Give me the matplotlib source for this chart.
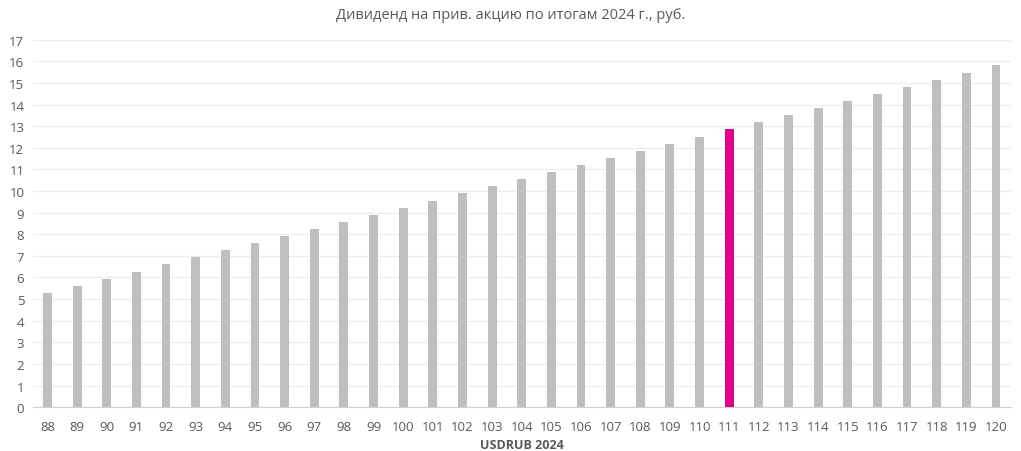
import numpy as np
import matplotlib.pyplot as plt

plt.rcParams['font.family'] = ['Open Sans', 'DejaVu Sans']

# Data
usdrub = list(range(88, 121))
dividend = [5.29, 5.61, 5.94, 6.27, 6.60, 6.93, 7.26, 7.59, 7.92, 8.24,
            8.57, 8.90, 9.23, 9.56, 9.89, 10.22, 10.55, 10.88, 11.21, 11.53,
            11.86, 12.19, 12.52, 12.85, 13.18, 13.51, 13.84, 14.17, 14.50, 14.82,
            15.15, 15.48, 15.81]
highlight = 111

colors = ['#e0008c' if u == highlight else '#bfbfbf' for u in usdrub]

fig = plt.figure(figsize=(10.21, 4.52), dpi=100)
ax = fig.add_axes([0.032, 0.097, 0.958, 0.813])

x = np.arange(len(usdrub))
ax.bar(x, dividend, width=0.3, color=colors, zorder=3)

ax.set_xlim(-0.5, len(usdrub) - 0.5)
ax.set_ylim(0, 17)
ax.set_yticks(range(0, 18))
ax.set_xticks(x)
ax.set_xticklabels([str(u) for u in usdrub])
ax.grid(axis='y', color='#ececec', linewidth=0.8, zorder=0)

for s in ['top', 'right', 'left']:
    ax.spines[s].set_visible(False)
ax.spines['bottom'].set_color('#d0d0d0')
ax.tick_params(axis='both', length=0, colors='#595959', labelsize=9.5)
ax.tick_params(axis='x', pad=9)
ax.tick_params(axis='y', pad=6)

ax.set_xlabel('USDRUB 2024', fontsize=9, fontweight='bold', color='#595959', labelpad=4)
fig.suptitle('Дивиденд на прив. акцию по итогам 2024 г., руб.', y=0.982,
             fontsize=10.5, color='#595959')

fig.savefig('out.png', dpi=100)
